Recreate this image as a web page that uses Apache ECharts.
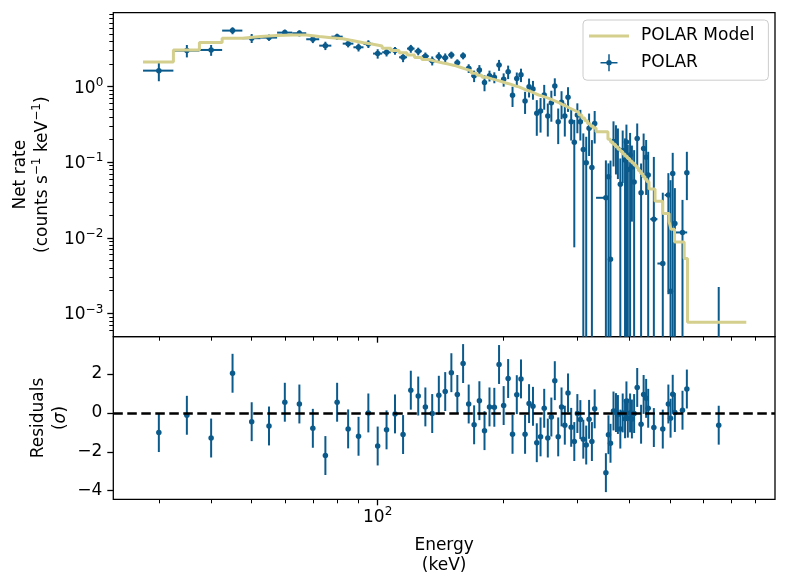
<!DOCTYPE html>
<html><head><meta charset="utf-8">
<script src="https://cdn.jsdelivr.net/npm/echarts@6/dist/echarts.min.js"></script>
<style>html,body{margin:0;padding:0;background:#fff}#c{width:788px;height:587px}</style>
</head><body><div id="c"></div>
<script>
// ---------------- data (keV, counts s^-1 keV^-1, sigma) ----------------
const energy = [30,35,40,45,50,55,60,65,70,75,80,85,90,95,100,105,110,115,120,125,130,135,140,145,150,155,160,165,170,175,180,185,190,195,200,205,210,215,220,225,230,235,240,245,250,255,260,265,270,275,280,285,290,295,300,305,310,315,320,325,330,
 351,356,360,366,371,375,380,385,390,393,396,401,405,410,417,426,432,438,443,457,480,495,501,507,513,535,548,653];
const energyErrLo = [2.5,2.5,2.5,2.5,2.5,2.5,2.5,2.5,2.5,2.5,2.5,2.5,2.5,2.5,2.5,2.5,2.5,2.5,2.5,2.5,2.5,2.5,2.5,2.5,2.5,2.5,2.5,2.5,2.5,2.5,2.5,2.5,2.5,2.5,2.5,2.5,2.5,2.5,2.5,2.5,2.5,2.5,2.5,2.5,2.5,2.5,2.5,2.5,2.5,2.5,2.5,2.5,2.5,2.5,2.5,2.5,2.5,2.5,2.5,2.5,2.5,
 18.5,2.5,2.5,2.5,2.5,2.5,2.5,2.5,2.5,2.5,2.5,2.5,2.5,2.5,2.5,2.5,2.5,2.5,2.5,9,14,10,2.5,2.5,2.5,22,2.5,5];
const energyErrHi = [2.5,2.5,2.5,2.5,2.5,2.5,2.5,2.5,2.5,2.5,2.5,2.5,2.5,2.5,2.5,2.5,2.5,2.5,2.5,2.5,2.5,2.5,2.5,2.5,2.5,2.5,2.5,2.5,2.5,2.5,2.5,2.5,2.5,2.5,2.5,2.5,2.5,2.5,2.5,2.5,2.5,2.5,2.5,2.5,2.5,2.5,2.5,2.5,2.5,2.5,2.5,2.5,2.5,2.5,2.5,2.5,2.5,2.5,2.5,2.5,2.5,
 4,2.5,2.5,2.5,2.5,2.5,2.5,2.5,2.5,2.5,2.5,2.5,2.5,2.5,2.5,2.5,2.5,2.5,2.5,9,5,4,2.5,2.5,2.5,14,2.5,5];
const rate = [1.63,3.00,3.06,5.52,4.38,4.46,5.19,5.09,4.24,3.49,4.59,3.71,3.32,3.68,2.74,2.85,3.00,2.45,3.19,2.94,2.53,2.21,2.50,2.42,2.63,2.08,2.57,1.75,1.39,1.66,1.14,1.40,1.33,1.94,1.25,1.58,0.769,1.28,1.44,0.646,1.00,0.932,0.444,0.477,0.776,0.409,0.614,1.02,0.344,0.621,0.409,0.724,0.344,0.1835,0.422,0.344,0.148,0.0985,0.281,0.0856,0.327,
 0.0339,0.0643,0.00522,0.188,0.169,0.150,0.0514,0.143,0.107,0.185,0.0805,0.1246,0.0864,0.0547,0.206,0.0394,0.152,0.117,0.0677,0.0177,0.00458,0.0368,0.00197,0.0713,0.0155,0.0118,0.0726,0.0002];
const rateErrLo = [0.45,0.56,0.50,0.58,0.60,0.42,0.50,0.48,0.47,0.44,0.43,0.40,0.40,0.43,0.39,0.34,0.35,0.34,0.38,0.34,0.30,0.30,0.35,0.33,0.28,0.22,0.27,0.23,0.24,0.27,0.27,0.23,0.22,0.32,0.25,0.32,0.23,0.26,0.29,0.21,0.28,0.26,0.22,0.23,0.28,0.19,0.27,0.27,0.17,0.25,0.19,0.26,0.15,0.176,0.18,0.15,0.20,0.15,0.16,0.12,0.15,
 0.072,0.07,0.01,0.10,0.10,0.09,0.06,0.09,0.11,0.2,0.09,0.13,0.07,0.06,0.12,0.05,0.09,0.08,0.07,0.05,0.01,0.035,0.01,0.08,0.03,0.02,0.041,0.001];
const rateErrHi = [0.45,0.56,0.50,0.58,0.60,0.42,0.50,0.48,0.47,0.44,0.43,0.40,0.40,0.43,0.39,0.34,0.35,0.34,0.38,0.34,0.30,0.30,0.35,0.33,0.28,0.22,0.27,0.23,0.24,0.27,0.27,0.23,0.22,0.32,0.25,0.32,0.23,0.26,0.29,0.21,0.28,0.26,0.22,0.23,0.28,0.19,0.27,0.27,0.17,0.25,0.19,0.26,0.15,0.18,0.18,0.15,0.093,0.119,0.16,0.111,0.15,
 0.072,0.0325,0.10,0.16,0.14,0.13,0.061,0.12,0.10,0.13,0.09,0.12,0.08,0.09,0.12,0.057,0.088,0.08,0.07,0.10,0.035,0.035,0.056,0.062,0.03,0.02,0.065,0.00204];
const residual = [-1.01,-0.12,-1.29,2.04,-0.45,-0.67,0.55,0.46,-0.79,-2.19,0.55,-0.82,-1.20,0.00,-1.70,-0.87,-0.05,-1.11,1.17,0.87,0.31,-0.03,0.91,1.10,2.07,0.95,2.54,0.46,-0.61,0.63,-0.91,0.31,0.29,2.49,0.38,1.77,-1.10,0.94,1.75,-1.10,0.48,0.34,-1.53,-1.23,0.24,-1.29,-0.21,1.66,-1.23,0.31,-0.63,1.03,-0.74,-1.47,-0.03,-0.34,-1.35,-1.65,-0.33,-1.47,0.21,
 -3.07,-1.12,-1.56,0.10,0.02,-0.08,-0.83,0.00,-0.30,0.62,-0.27,0.00,-0.31,-0.03,1.31,-0.58,0.95,0.75,0.24,-0.75,-0.83,0.46,-0.27,0.96,0.02,0.14,1.23,-0.63];
const residualErr = [1,1,1,1,1,1,1,1,1,1,1,1,1,1,1,1,1,1,1,1,1,1,1,1,1,1,1,1,1,1,1,1,1,1,1,1,1,1,1,1,1,1,1,1,1,1,1,1,1,1,1,1,1,1,1,1,1,1,1,1,1,
 1,1,1,1,1,1,1,1,1,1,1,1,1,1,1,1,1,1,1,1,1,1,1,1,1,1,1,1];
// model histogram: bin left edges (keV) and rates
const modelEdgeLo = [27.5,32.5,37.5,42.5,47.5,52.5,57.5,62.5,67.5,72.5,77.5,82.5,87.5,92.5,97.5,102.5,107.5,112.5,117.5,122.5,127.5,132.5,137.5,142.5,147.5,152.5,157.5,162.5,167.5,172.5,177.5,182.5,187.5,192.5,197.5,202.5,207.5,212.5,217.5,222.5,227.5,232.5,237.5,242.5,247.5,252.5,257.5,262.5,267.5,272.5,277.5,282.5,287.5,292.5,297.5,302.5,307.5,312.5,317.5,322.5,327.5,
 332.5,355,360,365,370,375,380,385,390,395,400,405,410,415,420,425,430,435,440,445,460,480,497,502,512,540,550];
const modelEdgeEnd = 760;
const modelRate = [2.12,3.06,3.85,4.38,4.60,4.74,4.84,4.84,4.62,4.45,4.30,4.05,3.82,3.64,3.46,3.23,3.00,2.82,2.62,2.44,2.29,2.16,2.07,1.99,1.91,1.81,1.71,1.62,1.51,1.42,1.33,1.27,1.22,1.17,1.12,1.08,1.03,0.994,0.941,0.896,0.859,0.813,0.776,0.751,0.722,0.694,0.663,0.633,0.605,0.576,0.550,0.522,0.499,0.477,0.454,0.422,0.385,0.354,0.323,0.302,0.284,
 0.2535,0.201,0.186,0.1726,0.1604,0.1491,0.1386,0.1288,0.1201,0.1119,0.1043,0.0976,0.0913,0.0848,0.0774,0.0713,0.0650,0.0597,0.0552,0.0442,0.0306,0.0210,0.0164,0.01304,0.00885,0.00533,0.000764];
// ticks
const xMajorTicks = [100];
const xMinorTicks = [30,40,50,60,70,80,90,200,300,400,500,600,700,800];
const yMajorTicks = [1e-3,1e-2,1e-1,1];
const yMinorTicks = [6e-4,7e-4,8e-4,9e-4,2e-3,3e-3,4e-3,5e-3,6e-3,7e-3,8e-3,9e-3,2e-2,3e-2,4e-2,5e-2,6e-2,7e-2,8e-2,9e-2,0.2,0.3,0.4,0.5,0.6,0.7,0.8,0.9,2,3,4,5,6,7,8,9];
const residTicks = [-4,-2,0,2];
const xRangeKeV = [23.35, 890];
const yRange = [4.93e-4, 9.52];
const residRange = [-4.44, 3.92];

// ---------------- chart ----------------
const LOG = Math.log10;
const X_MIN = LOG(xRangeKeV[0]), X_MAX = LOG(xRangeKeV[1]);
const Y_MIN = LOG(yRange[0]), Y_MAX = LOG(yRange[1]);
const DATA = '#0b5a8c', MODEL = '#d4cf8c', FONT = 'DejaVu Sans';
const clampY = v => Math.max(Y_MIN, Math.min(Y_MAX, v));

const topErr = energy.map((e, i) => {
  const lo = rate[i] - rateErrLo[i];
  return [LOG(e), LOG(rate[i]), lo > 0 ? LOG(lo) : Y_MIN - 1, LOG(rate[i] + rateErrHi[i]),
          LOG(e - energyErrLo[i]), LOG(e + energyErrHi[i])];
});
const topPts = energy.map((e, i) => [LOG(e), LOG(rate[i])]);
const resErr = energy.map((e, i) => [LOG(e), residual[i], residual[i] - residualErr[i], residual[i] + residualErr[i]]);
const resPts = energy.map((e, i) => [LOG(e), residual[i]]);
const modelData = modelEdgeLo.map((e, i) => [LOG(e), LOG(modelRate[i])]);
modelData.push([LOG(modelEdgeEnd), LOG(modelRate[modelRate.length - 1])]);

function renderTop(params, api) {
  const x = api.value(0), y = api.value(1), lo = api.value(2), hi = api.value(3), xl = api.value(4), xh = api.value(5);
  const ch = [];
  if (hi > Y_MIN) {
    const a = api.coord([x, clampY(hi)]), b = api.coord([x, clampY(lo)]);
    ch.push({type: 'line', shape: {x1: a[0], y1: a[1], x2: b[0], y2: b[1]}, style: {stroke: DATA, lineWidth: 2}});
  }
  if (y >= Y_MIN && y <= Y_MAX) {
    const c = api.coord([xl, y]), d = api.coord([xh, y]);
    ch.push({type: 'line', shape: {x1: c[0], y1: c[1], x2: d[0], y2: d[1]}, style: {stroke: DATA, lineWidth: 2}});
  }
  return {type: 'group', children: ch};
}
function renderRes(params, api) {
  const x = api.value(0), lo = api.value(2), hi = api.value(3);
  const a = api.coord([x, hi]), b = api.coord([x, lo]);
  return {type: 'line', shape: {x1: a[0], y1: a[1], x2: b[0], y2: b[1]}, style: {stroke: DATA, lineWidth: 2}};
}
const supTxt = n => (n < 0 ? '\u2212' + (-n) : '' + n);
const richPow = {b: {fontSize: 17, fontFamily: FONT, color: '#000', padding: [3, 0, 0, 0], verticalAlign: 'bottom'},
                 s: {fontSize: 12, fontFamily: FONT, color: '#000', verticalAlign: 'top'}};
const tickMajor = {show: true, length: 6, lineStyle: {color: '#000', width: 1.3}};
const tickMinor = {show: true, length: 4, lineStyle: {color: '#000', width: 1}};
const noLine = {show: false, onZero: false};
const xBase = {type: 'value', min: X_MIN, max: X_MAX, position: 'bottom', splitLine: {show: false}, axisLine: noLine};

const option = {
  animation: false,
  textStyle: {fontFamily: FONT},
  grid: [
    {left: 113.3, right: 13, top: 12.7, height: 324, show: true, borderColor: '#000', borderWidth: 1.3, backgroundColor: 'rgba(0,0,0,0)'},
    {left: 113.3, right: 13, top: 336.7, height: 162.6, show: true, borderColor: '#000', borderWidth: 1.3, backgroundColor: 'rgba(0,0,0,0)'}
  ],
  legend: {
    orient: 'vertical', left: 583, top: 20, selectedMode: false, align: 'left',
    itemWidth: 40, itemHeight: 17, itemGap: 9.7, padding: [7.5, 14, 9, 6],
    backgroundColor: 'rgba(255,255,255,0.8)', borderColor: '#cccccc', borderWidth: 1, borderRadius: 4,
    textStyle: {fontSize: 17, color: '#000', fontFamily: FONT, padding: [0, 0, 0, 7]},
    data: [
      {name: 'POLAR Model', icon: 'path://M0,0H40V3H0Z'},
      {name: 'POLAR', icon: 'path://M0,7.75H17V9.25H0Z M7.75,0H9.25V17H7.75Z M11.2,8.5A2.7,2.7 0 1 1 5.8,8.5A2.7,2.7 0 1 1 11.2,8.5Z'}
    ]
  },
  xAxis: [
    Object.assign({}, xBase, {gridIndex: 0, axisTick: Object.assign({customValues: xMajorTicks.map(LOG)}, tickMajor), axisLabel: {show: false}}),
    Object.assign({}, xBase, {gridIndex: 0, axisTick: Object.assign({customValues: xMinorTicks.map(LOG)}, tickMinor), axisLabel: {show: false}}),
    Object.assign({}, xBase, {gridIndex: 1, axisTick: Object.assign({customValues: xMajorTicks.map(LOG)}, tickMajor),
      axisLabel: {show: true, customValues: xMajorTicks.map(LOG), margin: 7, formatter: v => '{b|10}{s|' + supTxt(Math.round(v)) + '}', rich: richPow},
      name: 'Energy\n(keV)', nameLocation: 'middle', nameGap: 36.7, nameTextStyle: {fontSize: 17, lineHeight: 20, color: '#000', fontFamily: FONT}}),
    Object.assign({}, xBase, {gridIndex: 1, axisTick: Object.assign({customValues: xMinorTicks.map(LOG)}, tickMinor), axisLabel: {show: false}})
  ],
  yAxis: [
    {type: 'value', gridIndex: 0, position: 'left', min: Y_MIN, max: Y_MAX, splitLine: {show: false}, axisLine: noLine,
     axisTick: Object.assign({customValues: yMajorTicks.map(LOG)}, tickMajor),
     axisLabel: {show: true, customValues: yMajorTicks.map(LOG), margin: 10, formatter: v => '{b|10}{s|' + supTxt(Math.round(v)) + '}', rich: richPow},
     name: 'Net rate\n(counts s{s|\u22121} keV{s|\u22121})', nameLocation: 'middle', nameRotate: 90, nameGap: 60, nameMoveOverlap: false,
     nameTextStyle: {fontSize: 17, lineHeight: 22, color: '#000', fontFamily: FONT,
       rich: {s: {fontSize: 12, lineHeight: 12, verticalAlign: 'top', fontFamily: FONT, color: '#000'}}}},
    {type: 'value', gridIndex: 0, position: 'left', min: Y_MIN, max: Y_MAX, splitLine: {show: false}, axisLine: noLine,
     axisTick: Object.assign({customValues: yMinorTicks.map(LOG)}, tickMinor), axisLabel: {show: false}},
    {type: 'value', gridIndex: 1, position: 'left', min: residRange[0], max: residRange[1], splitLine: {show: false}, axisLine: noLine,
     axisTick: Object.assign({customValues: residTicks}, tickMajor),
     axisLabel: {show: true, customValues: residTicks, margin: 11, fontSize: 17, color: '#000', fontFamily: FONT, formatter: v => supTxt(Math.round(v))},
     name: 'Residuals\n({i|\u03C3})', nameLocation: 'middle', nameRotate: 90, nameGap: 42, nameMoveOverlap: false,
     nameTextStyle: {fontSize: 17, lineHeight: 22, color: '#000', fontFamily: FONT, rich: {i: {fontSize: 17, fontStyle: 'italic', fontFamily: FONT, color: '#000'}}}}
  ],
  series: [
    {name: 'POLAR', type: 'custom', xAxisIndex: 0, yAxisIndex: 0, renderItem: renderTop, data: topErr, encode: {x: 0, y: 1}, itemStyle: {color: DATA}, z: 2, silent: true},
    {name: 'POLAR', type: 'scatter', xAxisIndex: 0, yAxisIndex: 0, data: topPts, symbol: 'circle', symbolSize: 5.5, itemStyle: {color: DATA, opacity: 1}, z: 3, silent: true},
    {name: 'POLAR Model', type: 'line', step: 'end', xAxisIndex: 0, yAxisIndex: 0, data: modelData, symbol: 'none', color: MODEL,
     lineStyle: {color: MODEL, width: 3}, itemStyle: {color: MODEL}, z: 4, silent: true},
    {name: 'res', type: 'custom', xAxisIndex: 2, yAxisIndex: 2, renderItem: renderRes, data: resErr, encode: {x: 0, y: 1}, itemStyle: {color: DATA}, z: 2, silent: true},
    {name: 'resPts', type: 'scatter', xAxisIndex: 2, yAxisIndex: 2, data: resPts, symbol: 'circle', symbolSize: 5.5, itemStyle: {color: DATA, opacity: 1}, z: 3, silent: true,
     markLine: {silent: true, symbol: ['none', 'none'], label: {show: false}, lineStyle: {color: '#000', width: 2.5, type: [9.5, 4.5]}, data: [{yAxis: 0}]}}
  ]
};
const chart = echarts.init(document.getElementById('c'), null, {renderer: 'canvas'});
chart.setOption(option);
</script>
</body></html>
